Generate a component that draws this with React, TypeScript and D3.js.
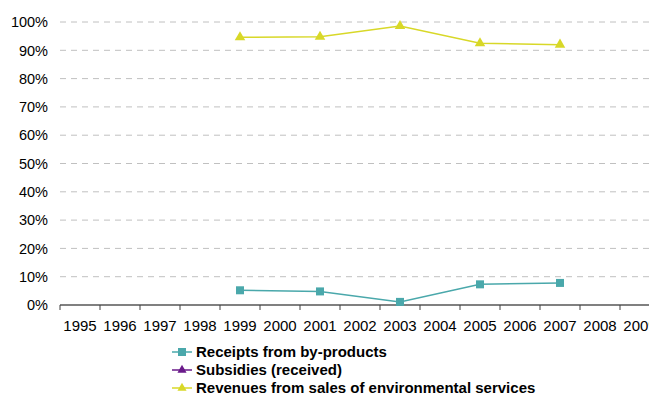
import React from "react";
import * as d3 from "d3";

const years = ["1995","1996","1997","1998","1999","2000","2001","2002","2003","2004","2005","2006","2007","2008","2009"];
const seriesYears = ["1999","2001","2003","2005","2007"];
const receipts = [0.052, 0.048, 0.011, 0.073, 0.078];
const subsidies: (number | null)[] = [null, null, null, null, null];
const revenues = [0.946, 0.948, 0.986, 0.925, 0.920];
const yTicks = [0, 0.1, 0.2, 0.3, 0.4, 0.5, 0.6, 0.7, 0.8, 0.9, 1.0];
const seriesNames = ["Receipts from by-products", "Subsidies (received)", "Revenues from sales of environmental services"];
const seriesColors = ["#4aa8ab", "#6a1a8a", "#d8d828"];

const W = 649, H = 394;
const FONT = "Arial, 'Liberation Sans', sans-serif";

export default function App() {
  const x = d3.scaleBand<string>().domain(years).range([60, 660]).padding(0);
  const y = d3.scaleLinear().domain([0, 1]).range([305, 22]);
  const cx = (yr: string) => (x(yr) as number) + x.bandwidth() / 2;
  const fmt = d3.format(".0%");

  const data = [receipts, subsidies, revenues];
  const line = d3
    .line<[string, number | null]>()
    .defined((d) => d[1] != null)
    .x((d) => cx(d[0]))
    .y((d) => y(d[1] as number));

  const tri = d3.symbol().type(d3.symbolTriangle).size(48)() as string;
  const triSmall = d3.symbol().type(d3.symbolTriangle).size(36)() as string;

  const marker = (i: number, px: number, py: number, key: string, small = false) =>
    i === 0 ? (
      <rect key={key} x={px - 4} y={py - 4} width={8} height={8} fill={seriesColors[i]} />
    ) : (
      <path key={key} d={small ? triSmall : tri} transform={`translate(${px},${py})`} fill={seriesColors[i]} />
    );

  const tickXs = d3.range(years.length + 1).map((k) => 60 + k * x.bandwidth());

  return (
    <svg width={W} height={H} style={{ position: "absolute", left: 0, top: 0, background: "#fff" }} fontFamily={FONT}>
      {yTicks.filter((t) => t > 0).map((t) => (
        <line key={"g" + t} x1={60} x2={W} y1={y(t)} y2={y(t)} stroke="#c0c0c0" strokeWidth={1} strokeDasharray="6,5" />
      ))}
      {yTicks.map((t) => (
        <text key={"yl" + t} x={48} y={y(t)} dy="0.36em" textAnchor="end" fontSize={14.5} fill="#000">
          {fmt(t)}
        </text>
      ))}
      <line x1={60} x2={W} y1={y(0)} y2={y(0)} stroke="#808080" strokeWidth={2} />
      {tickXs.map((tx) => (
        <line key={"t" + tx} x1={tx} x2={tx} y1={y(0)} y2={y(0) + 5} stroke="#404040" strokeWidth={1} />
      ))}
      {years.map((yr) => (
        <text key={"xl" + yr} x={cx(yr)} y={331} textAnchor="middle" fontSize={15} fill="#000">
          {yr}
        </text>
      ))}
      {data.map((vals, i) => {
        const pts = seriesYears.map((yr, j) => [yr, vals[j]] as [string, number | null]);
        return (
          <g key={"s" + i}>
            <path d={line(pts) || ""} fill="none" stroke={seriesColors[i]} strokeWidth={1.5} />
            {pts.filter((p) => p[1] != null).map((p) => marker(i, cx(p[0]), y(p[1] as number), "m" + i + p[0]))}
          </g>
        );
      })}
      {seriesNames.map((name, i) => {
        const ly = 352 + i * 18;
        return (
          <g key={"lg" + i}>
            <line x1={172} x2={192} y1={ly} y2={ly} stroke={seriesColors[i]} strokeWidth={1.5} />
            {marker(i, 182, ly, "lm" + i, true)}
            <text x={196} y={ly} dy="0.36em" fontSize={15} fontWeight="bold" fill="#000">
              {name}
            </text>
          </g>
        );
      })}
    </svg>
  );
}
